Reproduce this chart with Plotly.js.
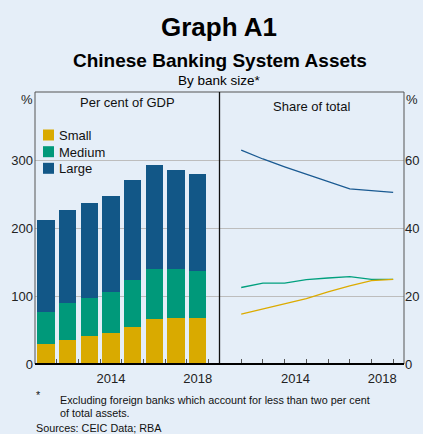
<!DOCTYPE html>
<html><head><meta charset="utf-8">
<script src="https://cdn.plot.ly/plotly-3.0.1.min.js"></script>
<style>html,body{margin:0;padding:0;background:#e5eef8;} #chart{width:423px;height:434px;}</style>
</head><body><div id="chart"></div>
<script>
// ---- data ----
const years = [2011, 2012, 2013, 2014, 2015, 2016, 2017, 2018];
const seriesNames = ['Small', 'Medium', 'Large'];
const gdpSmall  = [30, 36, 41, 46, 55, 66, 68, 68];
const gdpMedium = [47, 54, 56, 60, 68, 74, 71, 69];
const gdpLarge  = [135, 137, 140, 141, 147, 152, 146, 142];
// share of total, end-of-year observations
const shareDates  = [2011.5, 2012.5, 2013.5, 2014.5, 2015.5, 2016.5, 2017.5, 2018.5];
const shareSmall  = [14.7, 16.2, 17.9, 19.2, 21.2, 23.0, 24.5, 24.9];
const shareMedium = [22.5, 23.8, 23.8, 24.8, 25.3, 25.7, 24.9, 24.9];
const shareLarge  = [62.9, 60.3, 58.0, 55.8, 53.7, 51.5, 51.0, 50.5];
const xLabelYears = [2014, 2018];
const yearBoundaries = [2011.5, 2012.5, 2013.5, 2014.5, 2015.5, 2016.5, 2017.5, 2018.5];
const leftTicks = [0, 100, 200, 300];
const rightTicks = [0, 20, 40, 60];

const barColors = ['#d9aa00', '#00997a', '#125787'];
const lineColors = ['#dcab00', '#00a07e', '#1a5a92'];
const bg = '#e5eef8';
const FONT = 'Liberation Sans, Arial, sans-serif';

// pixel helpers (plot area: left 35, top 92, width 369.5, height 272)
const L = 35, T = 92, W = 369.5, H = 272;
const px = X => (X - L) / W;
const py = Y => (T + H - Y) / H;

const gdpSeries = [gdpSmall, gdpMedium, gdpLarge];
const shareSeries = [shareSmall, shareMedium, shareLarge];

const traces = [];
gdpSeries.forEach((vals, i) => traces.push({
  type:'bar', x: years, y: vals, name: seriesNames[i], marker:{color: barColors[i]},
  xaxis:'x', yaxis:'y', showlegend:false, hoverinfo:'skip'
}));
// draw Large first so the lower lines sit on top, matching reference
[2, 1, 0].forEach(i => traces.push({
  type:'scatter', mode:'lines', x: shareDates, y: shareSeries[i], name: seriesNames[i],
  line:{color: lineColors[i], width:1.3}, xaxis:'x2', yaxis:'y2', showlegend:false, hoverinfo:'skip'
}));

const xCommon = {
  range:[2010.5, 2019], tickmode:'array', tickvals: xLabelYears, ticktext: xLabelYears.map(String),
  ticks:'', showgrid:false, zeroline:false, showline:false, fixedrange:true, ticklabelstandoff:5,
  tickfont:{size:13, color:'#222', family:FONT},
  minor:{tickmode:'array', tickvals: yearBoundaries, ticks:'inside', ticklen:5, tickcolor:'#555', tickwidth:1, showgrid:false}
};

// legend built from the series names and colours (matching reference spacing)
const legendRows = [135, 151.7, 168.3];
const legendShapes = seriesNames.map((n, i) => ({
  type:'rect', xref:'paper', yref:'paper', x0: px(43), x1: px(54),
  y0: py(legendRows[i] + 5.5), y1: py(legendRows[i] - 5.5),
  fillcolor: barColors[i], line:{width:0}
}));
const legendTexts = seriesNames.map((n, i) => ({
  text: n, x: px(57), y: py(legendRows[i] + 0.5), xref:'paper', yref:'paper', xanchor:'left', yanchor:'middle',
  showarrow:false, font:{size:13, family:FONT, color:'#111'}
}));

const layout = {
  width:423, height:434,
  margin:{l:L, r:423 - L - W, t:T, b:434 - T - H, pad:0},
  paper_bgcolor: bg, plot_bgcolor: bg,
  font:{family:FONT, color:'#111', size:13},
  barmode:'stack', bargap:0.2,
  showlegend:false,
  xaxis: Object.assign({}, xCommon, {domain:[0,0.5], anchor:'y'}),
  xaxis2: Object.assign({}, xCommon, {domain:[0.5,1], anchor:'y2'}),
  yaxis: {domain:[0,1], range:[0,400], tickmode:'array', tickvals:leftTicks, ticks:'', showgrid:true,
          gridcolor:'#bdbdbd', gridwidth:1, zeroline:false, showline:false, fixedrange:true, anchor:'x',
          ticklabelstandoff:1, tickfont:{size:13, color:'#222', family:FONT}},
  yaxis2: {domain:[0,1], range:[0,80], tickmode:'array', tickvals:rightTicks, ticks:'', showgrid:true,
          gridcolor:'#bdbdbd', gridwidth:1, zeroline:false, showline:false, fixedrange:true, anchor:'x2', side:'right',
          tickfont:{size:13, color:'#222', family:FONT}},
  shapes:[
    {type:'rect', xref:'paper', yref:'paper', x0:0, x1:1, y0:0, y1:1, line:{color:'#555', width:1}, fillcolor:'rgba(0,0,0,0)'},
    {type:'line', xref:'paper', yref:'paper', x0:0.5, x1:0.5, y0:0, y1:1, line:{color:'#111', width:1.3}},
    {type:'line', xref:'paper', yref:'paper', x0:0, x1:1, y0:0, y1:0, line:{color:'#000', width:2}}
  ].concat(legendShapes),
  annotations:[
    {text:'<b>Graph A1</b>', x: px(219.5), y: py(27), xref:'paper', yref:'paper', xanchor:'center', yanchor:'middle', showarrow:false, font:{size:26, family:FONT, color:'#000'}},
    {text:'<b>Chinese Banking System Assets</b>', x: px(220), y: py(61), xref:'paper', yref:'paper', xanchor:'center', yanchor:'middle', showarrow:false, font:{size:19, family:FONT, color:'#000'}},
    {text:'By bank size*', x: px(219.5), y: py(81), xref:'paper', yref:'paper', xanchor:'center', yanchor:'middle', showarrow:false, font:{size:13.5, family:FONT, color:'#000'}},
    {text:'Per cent of GDP', x: px(127.5), y: py(103), xref:'paper', yref:'paper', xanchor:'center', yanchor:'middle', showarrow:false, font:{size:13, family:FONT, color:'#111'}},
    {text:'Share of total', x: px(312.3), y: py(106), xref:'paper', yref:'paper', xanchor:'center', yanchor:'middle', showarrow:false, font:{size:13, family:FONT, color:'#111'}},
    {text:'%', x: px(26.7), y: py(99.5), xref:'paper', yref:'paper', xanchor:'center', yanchor:'middle', showarrow:false, font:{size:13, family:FONT, color:'#222'}},
    {text:'%', x: px(412.7), y: py(99), xref:'paper', yref:'paper', xanchor:'center', yanchor:'middle', showarrow:false, font:{size:13, family:FONT, color:'#222'}},
    {text:'*', x: px(34), y: py(395), xref:'paper', yref:'paper', xanchor:'left', yanchor:'middle', showarrow:false, font:{size:10.8, family:FONT, color:'#111'}},
    {text:'Excluding foreign banks which account for less than two per cent', x: px(58), y: py(399.5), xref:'paper', yref:'paper', xanchor:'left', yanchor:'middle', showarrow:false, font:{size:10.8, family:FONT, color:'#111'}},
    {text:'of total assets.', x: px(58), y: py(412.5), xref:'paper', yref:'paper', xanchor:'left', yanchor:'middle', showarrow:false, font:{size:10.8, family:FONT, color:'#111'}},
    {text:'Sources: CEIC Data; RBA', x: px(34), y: py(428), xref:'paper', yref:'paper', xanchor:'left', yanchor:'middle', showarrow:false, font:{size:10.8, family:FONT, color:'#111'}}
  ].concat(legendTexts)
};

Plotly.newPlot('chart', traces, layout, {staticPlot:true, displayModeBar:false});
</script>
</body></html>
